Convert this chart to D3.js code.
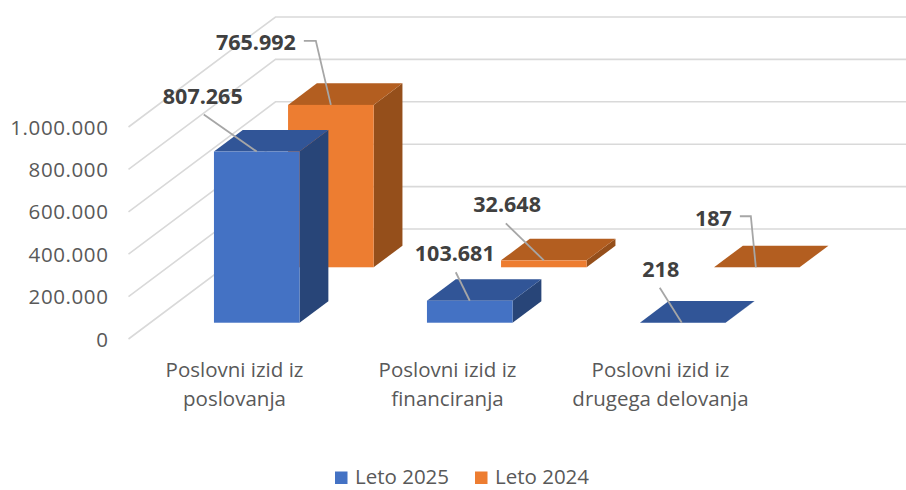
<!DOCTYPE html>
<html><head><meta charset="utf-8">
<script src="https://cdn.jsdelivr.net/npm/d3@7"></script>
<style>html,body{margin:0;padding:0;background:#fff}svg{display:block}</style>
</head><body><svg id="c" width="906" height="490"></svg>
<script>
const categories = ["Poslovni izid iz poslovanja","Poslovni izid iz financiranja","Poslovni izid iz drugega delovanja"];
const categoryLines = [["Poslovni izid iz","poslovanja"],["Poslovni izid iz","financiranja"],["Poslovni izid iz","drugega delovanja"]];
const seriesNames = ["Leto 2025","Leto 2024"];
const values2025 = [807265,103681,218];
const values2024 = [765992,32648,187];
const yTicks = [0,200000,400000,600000,800000,1000000];

const font = "'Open Sans',sans-serif";
const svg = d3.select("#c");
const W=906, left=128.5, floorY=339, topY=127;
const depthX=147, depthY=110;
const x = d3.scaleBand().domain(categories).range([left,left+639]);
const y = d3.scaleLinear().domain([0,1000000]).range([floorY,topY]);
const barW = 85.6, seriesFront=[0.148,0.652], barDepth=0.196; // fractions of floor depth
const palette=[{front:"#4472C4",top:"#315597",side:"#284578"},{front:"#ED7D31",top:"#B35E20",side:"#954F1B"}];
const grid="#D9D9D9", textC="#595959", labelC="#404040", leader="#A6A6A6";
const loc = v => d3.format(",")(v).replace(/,/g,".");

// walls
const gl = svg.append("g").attr("fill","none").attr("stroke",grid).attr("stroke-width",1.6);
yTicks.forEach(t=>{
  gl.append("path").attr("d",d3.line()([[left,y(t)],[left+depthX,y(t)-depthY],[W,y(t)-depthY]]));
});

// y axis
const axis = svg.append("g").attr("transform",`translate(${left-20},0)`)
  .call(d3.axisLeft(y).tickValues(yTicks).tickSize(0).tickPadding(0).tickFormat(loc));
axis.select(".domain").remove();
axis.selectAll("text").attr("fill",textC).attr("dy","0.35em")
  .style("font-family",font).style("font-size","20.5px").style("letter-spacing","0.6px");

// bars
function bar(val,cat,s){
  const c=palette[s], f=seriesFront[s];
  const cx=x(cat)+x.bandwidth()/2;
  const x0=cx-barW/2+depthX*f, x1=x0+barW;
  const yb=floorY-depthY*f, yt=yb-(floorY-y(val));
  const ddx=depthX*barDepth, ddy=depthY*barDepth;
  const g=svg.append("g");
  const line=d3.line();
  g.append("path").attr("fill",c.side).attr("d",line([[x1,yt],[x1+ddx,yt-ddy],[x1+ddx,yb-ddy],[x1,yb]])+"Z");
  g.append("path").attr("fill",c.top).attr("d",line([[x0,yt],[x1,yt],[x1+ddx,yt-ddy],[x0+ddx,yt-ddy]])+"Z");
  g.append("rect").attr("x",x0).attr("y",yt).attr("width",barW).attr("height",yb-yt).attr("fill",c.front);
  return {ax:(x0+x1)/2, ay:yt};
}
const anchors=[[],[]];
[values2024,values2025].forEach((vals,i)=>{
  const s=1-i;
  vals.forEach((v,k)=>{anchors[s][k]=bar(v,categories[k],s);});
});

// data labels: label centre offset and leader path relative to anchor (bar top, front centre)
const labelLayout=[
 [{lx:-54,ly:-55,path:[[-53,-37],[0,0]]},{lx:-15,ly:-47,path:[[-14,-28.5],[0,0]]},{lx:-22,ly:-53,path:[[-23,-35],[-1,0]]}],
 [{lx:-75,ly:-62.5,path:[[-27,-64],[-15,-64],[0,0]]},{lx:-36.7,ly:-55.6,path:[[-38,-37],[0,0]]},{lx:-43.5,ly:-49,path:[[-17,-51],[-6,-51],[-1,0]]}]
];
[values2025,values2024].forEach((vals,s)=>vals.forEach((v,k)=>{
  const a=anchors[s][k], L=labelLayout[s][k];
  svg.append("path").attr("fill","none").attr("stroke",leader).attr("stroke-width",1.8)
    .attr("d",d3.line()(L.path.map(p=>[a.ax+p[0],a.ay+p[1]])));
  svg.append("text").attr("x",a.ax+L.lx).attr("y",a.ay+L.ly).attr("dy","0.35em").attr("text-anchor","middle")
    .attr("fill",labelC).style("font-family",font).style("font-weight",700).style("font-size","21.5px").text(loc(v));
}));

// category labels
categories.forEach((cat,k)=>{
  const cx=x(cat)+x.bandwidth()/2-0.5;
  categoryLines[k].forEach((t,j)=>{
    svg.append("text").attr("x",cx).attr("y",377+j*29).attr("text-anchor","middle")
      .attr("fill",textC).style("font-family",font).style("font-size","20.5px").text(t);
  });
});

// legend
const legendX=[335,475];
seriesNames.forEach((n,i)=>{
  svg.append("rect").attr("x",legendX[i]).attr("y",471.5).attr("width",12.5).attr("height",12.5).attr("fill",palette[i].front);
  svg.append("text").attr("x",legendX[i]+20).attr("y",484).attr("fill",textC).style("font-family",font).style("font-size","20.5px").text(n);
});
</script></body></html>
